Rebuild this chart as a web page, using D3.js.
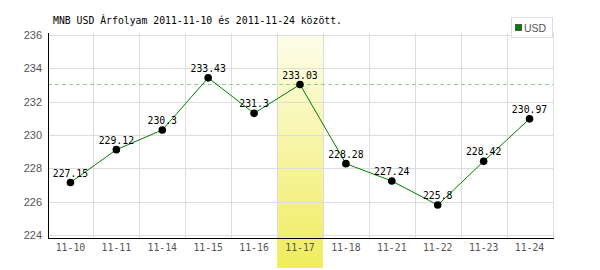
<!DOCTYPE html>
<html><head><meta charset="utf-8">
<script src="https://cdn.jsdelivr.net/npm/d3@7"></script>
<style>body{margin:0;background:#fff}svg{display:block}</style>
</head><body><svg id="c" width="600" height="270"></svg>
<script>
const title = "MNB USD Árfolyam 2011-11-10 és 2011-11-24 között.";
const categories = ["11-10","11-11","11-14","11-15","11-16","11-17","11-18","11-21","11-22","11-23","11-24"];
const values = [227.15,229.12,230.3,233.43,231.3,233.03,228.28,227.24,225.8,228.42,230.97];
const yTicks = [224,226,228,230,232,234,236];
const seriesName = "USD";
const highlight = "11-17";
const refValue = 233.03;

const svg = d3.select("#c");
const L = 47.5, R = 552.5, T = 35, B = 235;
const x = d3.scaleBand().domain(categories).range([L, R]);
const y = d3.scaleLinear().domain([224, 236]).range([B, T]);
const mono = "'DejaVu Sans Mono', monospace";

const defs = svg.append("defs");
const g = defs.append("linearGradient").attr("id","hl").attr("x1",0).attr("y1",0).attr("x2",0).attr("y2",1);
g.append("stop").attr("offset","0").attr("stop-color","#fdfdea");
g.append("stop").attr("offset","1").attr("stop-color","#f0ec5c");

svg.append("rect").attr("x", x(highlight)).attr("y", T).attr("width", x.bandwidth()).attr("height", 268 - T).attr("fill","url(#hl)");

const grid = svg.append("g").attr("stroke","#dddddd").attr("stroke-width",1).attr("shape-rendering","crispEdges");
yTicks.forEach(t => grid.append("line").attr("x1", L).attr("x2", R).attr("y1", Math.round(y(t))+0.5).attr("y2", Math.round(y(t))+0.5));
categories.forEach((c,i) => { if (i>0) grid.append("line").attr("x1", Math.round(x(c))+0.5).attr("x2", Math.round(x(c))+0.5).attr("y1", T-2).attr("y2", 238); });
grid.append("line").attr("x1", R+0.5).attr("x2", R+0.5).attr("y1", T-2).attr("y2", 238);

svg.append("line").attr("x1", L).attr("x2", R).attr("y1", Math.round(y(refValue))+0.5).attr("y2", Math.round(y(refValue))+0.5)
  .attr("stroke","#90d090").attr("stroke-dasharray","4,3").attr("shape-rendering","crispEdges");

svg.append("line").attr("x1",48.5).attr("x2",48.5).attr("y1",T-2).attr("y2",238.5).attr("stroke","#000").attr("shape-rendering","crispEdges");
svg.append("line").attr("x1",48).attr("x2",R+1).attr("y1",238.5).attr("y2",238.5).attr("stroke","#000").attr("shape-rendering","crispEdges");

svg.append("g").selectAll("text").data(yTicks).join("text")
  .attr("x", 42).attr("y", d => y(d) + 4).attr("text-anchor","end")
  .attr("font-family","'Liberation Sans', Arial, sans-serif").attr("font-size", 11).attr("fill","#555")
  .text(d => d);

svg.append("g").selectAll("text").data(categories).join("text")
  .attr("x", d => x(d) + x.bandwidth()/2).attr("y", 251).attr("text-anchor","middle")
  .attr("font-family", mono).attr("font-size", 9.8).attr("fill","#555")
  .text(d => d);

const line = d3.line().x((d,i) => x(categories[i]) + x.bandwidth()/2).y(d => y(d));
svg.append("path").attr("d", line(values)).attr("fill","none").attr("stroke","#008000").attr("stroke-width",1);

svg.append("g").selectAll("circle").data(values).join("circle")
  .attr("cx", (d,i) => x(categories[i]) + x.bandwidth()/2).attr("cy", d => y(d)).attr("r", 3.8).attr("fill","#000");

svg.append("g").selectAll("text").data(values).join("text")
  .attr("x", (d,i) => x(categories[i]) + x.bandwidth()/2).attr("y", d => y(d) - 6).attr("text-anchor","middle")
  .attr("font-family", mono).attr("font-size", 9.8).attr("fill","#000")
  .text(d => d);

svg.append("text").attr("x", 53).attr("y", 24).attr("font-family", mono).attr("font-size", 9.8).attr("fill","#000").text(title);

svg.append("rect").attr("x", 511.5).attr("y", 17.5).attr("width", 41).attr("height", 20).attr("fill","#fff").attr("stroke","#dddddd").attr("shape-rendering","crispEdges");
svg.append("rect").attr("x", 515.5).attr("y", 24.5).attr("width", 6).attr("height", 6).attr("fill","#008000").attr("stroke","#555").attr("shape-rendering","crispEdges");
svg.append("text").attr("x", 524).attr("y", 31.5).attr("font-family","'Liberation Sans', Arial, sans-serif").attr("font-size", 10.5).attr("fill","#555").text(seriesName);
</script></body></html>
